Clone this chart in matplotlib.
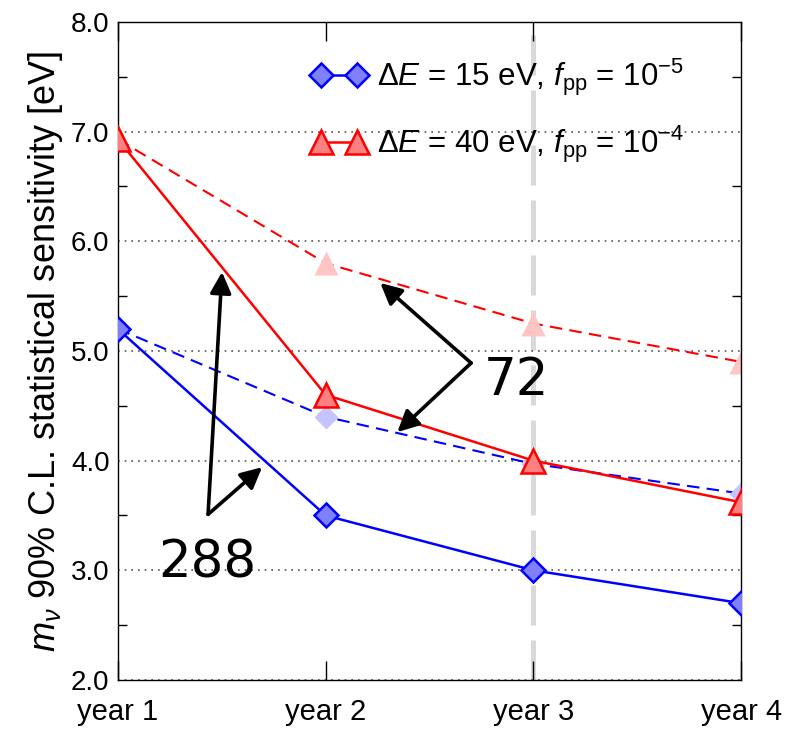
import numpy as np
import matplotlib
matplotlib.use('Agg')
import matplotlib.pyplot as plt
from matplotlib.ticker import MultipleLocator

plt.rcParams['font.family'] = ['Liberation Sans', 'DejaVu Sans']
plt.rcParams['mathtext.fontset'] = 'custom'
plt.rcParams['mathtext.rm'] = 'Liberation Sans'
plt.rcParams['mathtext.it'] = 'Liberation Sans:italic'
plt.rcParams['mathtext.bf'] = 'Liberation Sans:bold'

# データ
years = ['year 1', 'year 2', 'year 3', 'year 4']
blue_288 = [5.2, 3.5, 3.0, 2.7]     # dE=15 eV, 実線
blue_72 = [5.2, 4.4, 3.97, 3.7]     # dE=15 eV, 破線
red_288 = [6.93, 4.6, 4.0, 3.62]    # dE=40 eV, 実線
red_72 = [6.93, 5.8, 5.25, 4.9]     # dE=40 eV, 破線

label_blue = r'$\Delta E$ = 15 eV, $f_{\rm pp}$ = 10$^{-5}$'
label_red = r'$\Delta E$ = 40 eV, $f_{\rm pp}$ = 10$^{-4}$'

x = np.arange(len(years))

fig = plt.figure(figsize=(7.86, 7.31), dpi=100)
ax = fig.add_axes([0.150, 0.0698, 0.793, 0.9002])

# year 3 の縦線
ax.axvline(2, color='#d9d9d9', lw=3.6, linestyle=(0, (8, 3)), zorder=1)

# 破線 (72)
ax.plot(x, blue_72, color='#0000ff', lw=1.5, linestyle=(0, (6, 3.5)), zorder=2)
ax.plot(x[1:], blue_72[1:], 'D', ms=12, mfc='#c4c4ff', mec='none', zorder=2)
ax.plot(x, red_72, color='#ff0000', lw=1.5, linestyle=(0, (6, 3.5)), zorder=2)
ax.plot(x[1:], red_72[1:], '^', ms=17, mfc='#ffc4c4', mec='none', zorder=2)

# 実線 (288)
ax.plot(x, blue_288, color='#0000ff', lw=1.8, marker='D', ms=12,
        mfc='#8080ff', mec='#0000ff', mew=1.8, label=label_blue, zorder=3)
ax.plot(x, red_288, color='#ff0000', lw=1.8, marker='^', ms=17,
        mfc='#ff8080', mec='#ff0000', mew=1.8, label=label_red, zorder=3)

ax.set_xlim(0, 3)
ax.set_ylim(2, 8)
ax.set_xticks(x)
ax.set_xticklabels(years)
ax.yaxis.set_major_locator(MultipleLocator(1.0))
ax.yaxis.set_minor_locator(MultipleLocator(0.5))
ax.yaxis.set_major_formatter(matplotlib.ticker.FormatStrFormatter('%.1f'))
ax.tick_params(axis='both', which='major', direction='in', length=14,
               width=1, top=True, right=True)
ax.tick_params(axis='y', which='major', length=0, pad=6, labelsize=20)
ax.tick_params(axis='y', which='minor', direction='in', length=6.5,
               width=1, left=True, right=True)
ax.tick_params(axis='x', which='major', pad=13, labelsize=21)
ax.grid(axis='y', which='major', color='#555555', linestyle=(0, (1, 3)), lw=1.2)
for s in ax.spines.values():
    s.set_linewidth(1)

ax.set_ylabel(r'$m_\nu$ 90% C.L. statistical sensitivity [eV]', fontsize=26, labelpad=4)

leg = ax.legend(loc='upper left', bbox_to_anchor=(0.265, 0.99), frameon=False,
                numpoints=2, handlelength=1.75, handletextpad=0.35,
                labelspacing=0.8, fontsize=22.5)

# 注記の矢印
ap = dict(arrowstyle='-|>', lw=2.6, color='k', mutation_scale=32,
          shrinkA=0, shrinkB=0)
ax.annotate('', xy=(1.263, 5.62), xytext=(1.70, 4.89), arrowprops=ap, zorder=5)
ax.annotate('', xy=(1.345, 4.26), xytext=(1.70, 4.89), arrowprops=ap, zorder=5)
ax.text(1.76, 4.60, '72', fontsize=37, family='DejaVu Sans', ha='left', va='baseline')

ax.annotate('', xy=(0.501, 5.72), xytext=(0.434, 3.51), arrowprops=ap, zorder=5)
ax.annotate('', xy=(0.694, 3.94), xytext=(0.434, 3.51), arrowprops=ap, zorder=5)
ax.text(0.193, 2.93, '288', fontsize=37, family='DejaVu Sans', ha='left', va='baseline')

fig.savefig('out.png', dpi=100)
